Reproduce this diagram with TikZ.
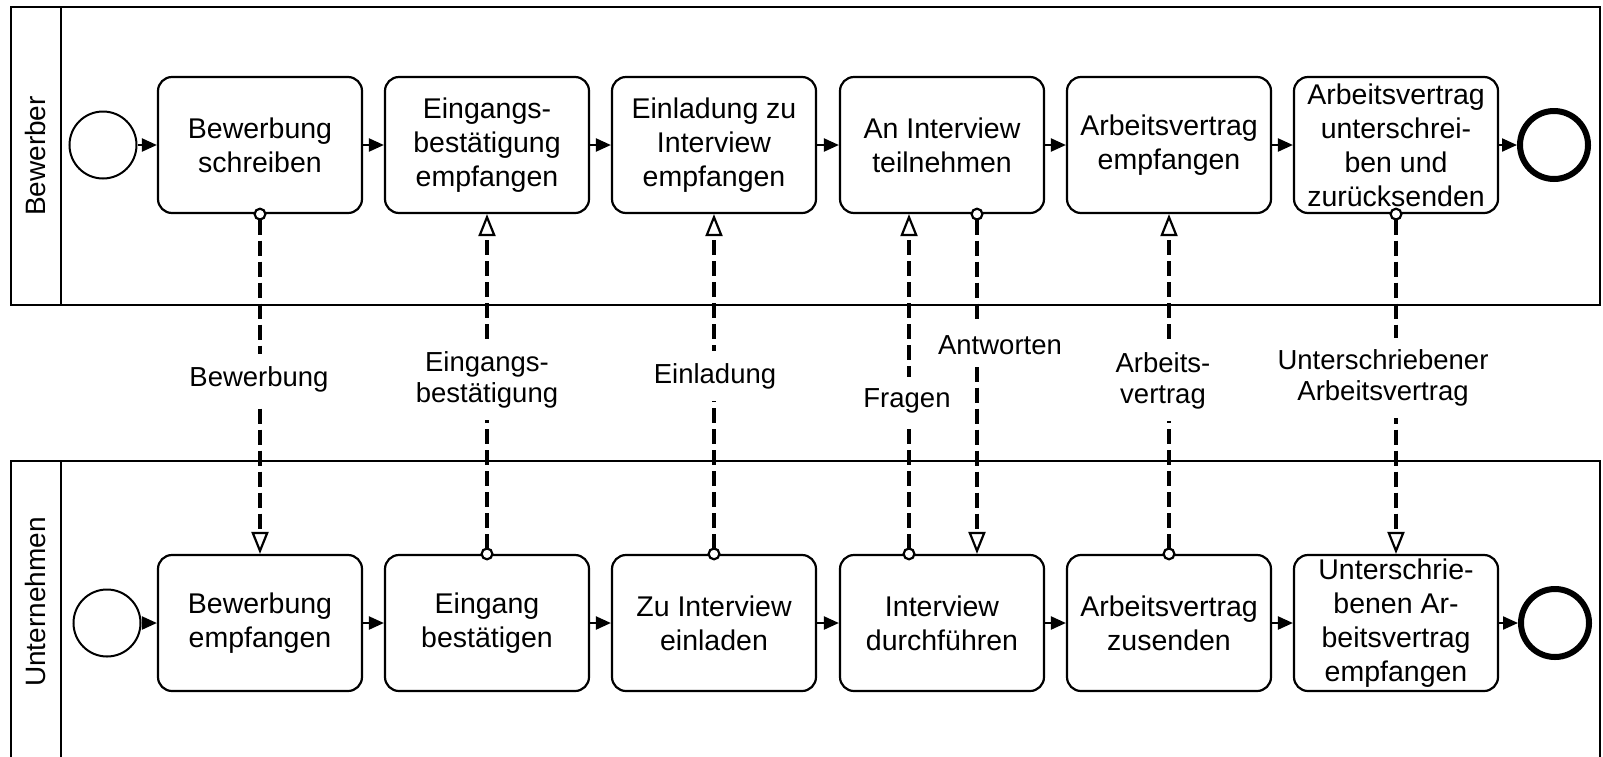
\documentclass[tikz,border=0pt]{standalone}
\usepackage{fontspec}
\setmainfont{Liberation Sans}
\usetikzlibrary{arrows.meta}
\begin{document}
\begin{tikzpicture}[x=1pt,y=-1pt,
  pool/.style={line width=2.2pt},
  task/.style={draw, line width=2.2pt, rounded corners=14pt, minimum width=204pt,
    minimum height=136pt, align=center, inner sep=0pt,
    font=\fontsize{28.5pt}{34pt}\selectfont},
  startev/.style={circle, draw, line width=2pt, minimum size=67pt, inner sep=0pt},
  endev/.style={circle, draw, line width=6pt, minimum size=68pt, inner sep=0pt},
  seq/.style={line width=2.2pt, -{Triangle[length=15pt,width=13pt]}},
  msg/.style={line width=3.2pt, dash pattern=on 15pt off 6pt,
    {Circle[open,fill=white,length=13pt,width=13pt,line width=2.2pt]}-{Triangle[open,fill=white,length=22pt,width=17pt,line width=2.2pt]},
    shorten <=-6.5pt},
  msglbl/.style={fill=white, align=center, inner xsep=4pt, inner ysep=12pt,
    font=\fontsize{27.5pt}{31pt}\selectfont},
  lanelbl/.style={rotate=90, font=\fontsize{28pt}{32pt}\selectfont}
]
\clip (0,0) rectangle (1603,756);

% pools and lanes
\draw[pool] (11,7) rectangle (1600,305);
\draw[pool] (61,7) -- (61,305);
\draw[pool] (11,800) -- (11,461) -- (1600,461) -- (1600,800);
\draw[pool] (61,461) -- (61,800);
\node[lanelbl] (laneA) at (35,156) {Bewerber};
\node[lanelbl] (laneB) at (35,602) {Unternehmen};

% applicant lane
\node[startev] (sA) at (103,145) {};
\node[task] (t1) at (260,145) {Bewerbung\\schreiben};
\node[task] (t2) at (487,145) {Eingangs-\\bestätigung\\empfangen};
\node[task] (t3) at (714,145) {Einladung zu\\Interview\\empfangen};
\node[task] (t4) at (942,145) {An Interview\\teilnehmen};
\node[task] (t5) at (1169,145) {Arbeitsvertrag\\empfangen};
\node[task] (t6) at (1396,145) {Arbeitsvertrag\\unterschrei-\\ben und\\zurücksenden};
\node[endev] (eA) at (1554,145) {};

% company lane
\node[startev] (sB) at (107,623) {};
\node[task] (b1) at (260,623) {Bewerbung\\empfangen};
\node[task] (b2) at (487,623) {Eingang\\bestätigen};
\node[task] (b3) at (714,623) {Zu Interview\\einladen};
\node[task] (b4) at (942,623) {Interview\\durchführen};
\node[task] (b5) at (1169,623) {Arbeitsvertrag\\zusenden};
\node[task] (b6) at (1396,623) {Unterschrie-\\benen Ar-\\beitsvertrag\\empfangen};
\node[endev] (eB) at (1555,623) {};

% sequence flows
\draw[seq] (sA) -- (t1);
\draw[seq] (t1) -- (t2);
\draw[seq] (t2) -- (t3);
\draw[seq] (t3) -- (t4);
\draw[seq] (t4) -- (t5);
\draw[seq] (t5) -- (t6);
\draw[seq] (t6) -- (eA);
\draw[seq] (sB) -- (b1);
\draw[seq] (b1) -- (b2);
\draw[seq] (b2) -- (b3);
\draw[seq] (b3) -- (b4);
\draw[seq] (b4) -- (b5);
\draw[seq] (b5) -- (b6);
\draw[seq] (b6) -- (eB);

% message flows
\draw[msg] (t1.south) -- (b1.north);
\draw[msg] (b2.north) -- (t2.south);
\draw[msg] (b3.north) -- (t3.south);
\draw[msg] ([xshift=-33pt]b4.north) -- ([xshift=-33pt]t4.south);
\draw[msg] ([xshift=35pt]t4.south) -- ([xshift=35pt]b4.north);
\draw[msg] (b5.north) -- (t5.south);
\draw[msg] (t6.south) -- (b6.north);

% message labels
\node[msglbl] (m1) at (259,379) {Bewerbung};
\node[msglbl] (m2) at (487,380) {Eingangs-\\bestätigung};
\node[msglbl] (m3) at (715,376) {Einladung};
\node[msglbl] (m4) at (907,401) {Fragen};
\node[msglbl] (m5) at (1000,345) {Antworten};
\node[msglbl] (m6) at (1163,381) {Arbeits-\\vertrag};
\node[msglbl] (m7) at (1383,378) {Unterschriebener\\Arbeitsvertrag};
\end{tikzpicture}
\end{document}
